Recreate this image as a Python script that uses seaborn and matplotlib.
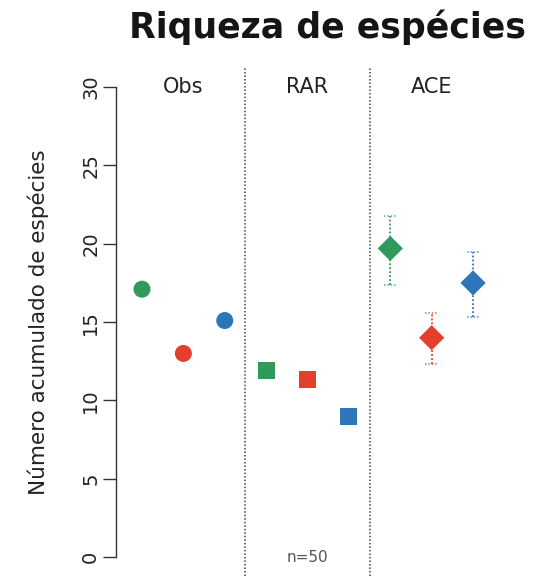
import numpy as np
import pandas as pd
import matplotlib
matplotlib.use("Agg")
import matplotlib.pyplot as plt
import seaborn as sns

# data
methods = ["Obs", "RAR", "ACE"]
sites = ["Área 1", "Área 2", "Área 3"]
obs_values = [17.1, 13.0, 15.1]
rar_values = [11.9, 11.35, 9.0]
ace_values = [19.7, 14.0, 17.5]
ace_lower = [17.35, 12.3, 15.3]
ace_upper = [21.8, 15.55, 19.45]
site_colors = ["#2f9a5c", "#e2402c", "#2e76ba"]
n_label = "n=50"

rows = []
for gi, (m, vals) in enumerate(zip(methods, [obs_values, rar_values, ace_values])):
    for si, v in enumerate(vals):
        rows.append({"method": m, "site": sites[si], "value": v, "pos": gi * len(sites) + si + 1})
df = pd.DataFrame(rows)

sns.set_style("white")
plt.rcParams["font.family"] = ["DejaVu Sans"]

fig = plt.figure(figsize=(5.38, 5.76), dpi=100)
ax = fig.add_axes([0.2156, 0.0, 0.712, 0.8816])

sns.scatterplot(
    data=df, x="pos", y="value", hue="site", style="method", size="method",
    palette=site_colors, markers={"Obs": "o", "RAR": "s", "ACE": "D"},
    sizes={"Obs": 150, "RAR": 150, "ACE": 165},
    linewidth=0, legend=False, ax=ax, zorder=3,
)

# ACE confidence bars, dotted
ace = df[df["method"] == "ACE"].reset_index(drop=True)
cap = 0.15
for i, row in ace.iterrows():
    c = site_colors[i]
    ax.vlines(row["pos"], ace_lower[i], ace_upper[i], colors=c, linestyles=(0, (1, 1.2)), linewidth=1.3, zorder=2)
    ax.hlines([ace_lower[i], ace_upper[i]], row["pos"] - cap, row["pos"] + cap,
              colors=c, linestyles=(0, (1, 1.2)), linewidth=1.1, alpha=0.8, zorder=2)

# group separators and labels
n_sites = len(sites)
for gi in range(1, len(methods)):
    ax.axvline(gi * n_sites + 0.5, color="#444444", linestyle=(0, (1, 1.3)), linewidth=1.1, zorder=1)
for gi, m in enumerate(methods):
    ax.text(gi * n_sites + 2, 30, m, ha="center", va="center", fontsize=15, color="#222222")
ax.text(n_sites + 2, 0, n_label, ha="center", va="center", fontsize=11, color="#555555")

ax.set_xlim(0.372, 9.628)
ax.set_ylim(-1.2, 31.2)
ax.set_xticks([])
ax.set_xlabel("")
ax.set_yticks(range(0, 31, 5))
ax.tick_params(axis="y", length=9.4, width=1, color="#333333", pad=2,
               labelsize=14, labelcolor="#222222", labelrotation=90, left=True)
for lab in ax.get_yticklabels():
    lab.set_va("center")

for s in ["top", "right", "bottom"]:
    ax.spines[s].set_visible(False)
ax.spines["left"].set_bounds(0, 30)
ax.spines["left"].set_color("#333333")
ax.spines["left"].set_linewidth(1)

ax.set_ylabel("Número acumulado de espécies", fontsize=15.5, color="#222222")
ax.yaxis.set_label_coords(-0.175, 0.5)

fig.text(327 / 538, 1 - 38 / 576, "Riqueza de espécies", ha="center", va="baseline",
         fontsize=25, fontweight="bold", color="#151515")

fig.savefig("out.png", dpi=100)
